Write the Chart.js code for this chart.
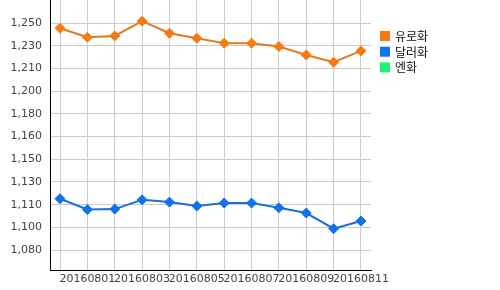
<!DOCTYPE html>
<html><head><meta charset="utf-8">
<script src="https://cdn.jsdelivr.net/npm/chart.js@4"></script>
<style>html,body{margin:0;padding:0;background:#fff;}canvas{display:block}</style>
</head><body>
<canvas id="c" width="500" height="290"></canvas>
<script>
const categories = ['20160731','20160801','20160802','20160803','20160804','20160805','20160806','20160807','20160808','20160809','20160810','20160811'];
const seriesNames = ['유로화','달러화','엔화'];
const euroValues = [1244.3, 1237.6, 1238.6, 1249.5, 1240.6, 1236.9, 1233.2, 1233.2, 1230.7, 1224.5, 1219.1, 1227.5];
const dollarValues = [1118.0, 1110.0, 1110.3, 1117.2, 1115.5, 1112.6, 1114.8, 1114.8, 1111.3, 1107.4, 1095.8, 1101.5];
const yenValues = [];
const yTickValues = [1080, 1096.8, 1113.6, 1130.4, 1147.2, 1164, 1180.8, 1197.6, 1214.4, 1231.2, 1248];
const yTickLabels = ['1,080','1,100','1,110','1,130','1,150','1,160','1,180','1,200','1,210','1,230','1,250'];

const lineColors = ['#e57a1c', '#1b6fd6', '#1ee87a'];
const pointColors = ['#f47b12', '#0e74ea', '#1ef07a'];

const toPoints = arr => arr.map((v, i) => ({x: i, y: v}));

const sideLegend = {
  id: 'sideLegend',
  afterDraw(chart) {
    const ctx = chart.ctx;
    ctx.save();
    ctx.font = '12px "Noto Sans CJK KR"';
    ctx.textBaseline = 'middle';
    ctx.textAlign = 'left';
    chart.data.datasets.forEach((ds, i) => {
      const y = 31 + i * 15.7;
      ctx.fillStyle = ds.pointBackgroundColor;
      ctx.fillRect(380, y, 10, 10);
      ctx.fillStyle = '#111';
      ctx.fillText(ds.label, 395, y + 5.5);
    });
    ctx.restore();
  }
};

const mk = (i, values) => ({
  label: seriesNames[i],
  data: toPoints(values),
  borderColor: lineColors[i],
  backgroundColor: pointColors[i],
  pointBackgroundColor: pointColors[i],
  pointBorderColor: pointColors[i],
  pointStyle: 'rectRot',
  pointRadius: 5,
  pointBorderWidth: 1,
  borderWidth: 2,
  tension: 0,
  fill: false
});

const zeroPad = s => { s.paddingTop = 0; s.paddingBottom = 0; s.paddingLeft = 0; s.paddingRight = 0; };

new Chart(document.getElementById('c'), {
  type: 'line',
  data: {
    datasets: [mk(0, euroValues), mk(1, dollarValues), mk(2, yenValues)]
  },
  options: {
    responsive: false,
    devicePixelRatio: 1,
    animation: false,
    layout: {autoPadding: false, padding: {left: 0, right: 129, top: 0, bottom: 0}},
    plugins: {legend: {display: false}, tooltip: {enabled: false}},
    scales: {
      x: {
        type: 'linear',
        min: -0.366,
        max: categories.length - 1 + 0.366,
        afterBuildTicks: s => { s.ticks = categories.map((_, i) => ({value: i})); },
        afterFit: s => { s.height = 20; zeroPad(s); },
        grid: {color: '#cccccc', drawTicks: false},
        border: {color: '#000', width: 1},
        ticks: {
          autoSkip: false, maxRotation: 0, minRotation: 0, padding: 3,
          font: {family: 'DejaVu Sans', size: 11}, color: '#444',
          callback: (v, i) => (i % 2 === 1 ? categories[i] : '')
        }
      },
      y: {
        min: 1065.2,
        max: 1265.2,
        afterBuildTicks: s => { s.ticks = yTickValues.map(v => ({value: v})); },
        afterFit: s => { s.width = 50; zeroPad(s); },
        grid: {color: '#cccccc', drawTicks: false},
        border: {color: '#000', width: 1},
        ticks: {
          padding: 8,
          font: {family: 'DejaVu Sans', size: 11}, color: '#444',
          callback: (v, i) => yTickLabels[i]
        }
      }
    }
  },
  plugins: [sideLegend]
});
</script>
</body></html>
